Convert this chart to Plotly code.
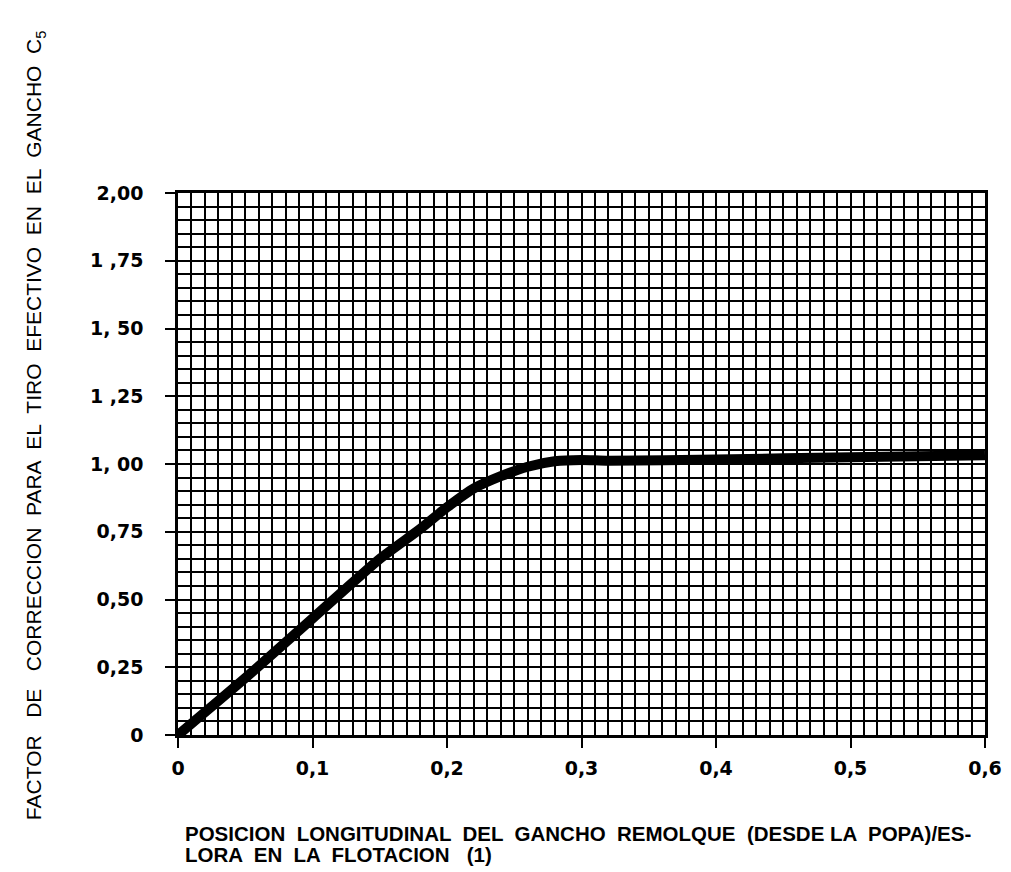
import plotly.graph_objects as go

# Data
x_pos = [0.0, 0.05, 0.10, 0.15, 0.18, 0.20, 0.22, 0.24, 0.26, 0.28, 0.30, 0.32, 0.40, 0.50, 0.60]
c5 = [0.0, 0.21, 0.43, 0.65, 0.76, 0.84, 0.91, 0.955, 0.99, 1.01, 1.015, 1.012, 1.017, 1.025, 1.032]

x_ticks = [0, 0.1, 0.2, 0.3, 0.4, 0.5, 0.6]
x_ticktext = ["0", "0,1", "0,2", "0,3", "0,4", "0,5", "0,6"]
y_ticks = [0, 0.25, 0.5, 0.75, 1.0, 1.25, 1.5, 1.75, 2.0]
y_ticktext = ["0", "0,25", "0,50", "0,75", "1, 00", "1 ,25", "1, 50", "1 ,75", "2,00"]

y_title = ("FACTOR   DE   CORRECCION  PARA  EL  TIRO  EFECTIVO  EN  EL  GANCHO  C<sub>5</sub>")
x_title_1 = "POSICION  LONGITUDINAL  DEL  GANCHO  REMOLQUE  (DESDE LA  POPA)/ES-"
x_title_2 = "LORA  EN  LA  FLOTACION   (1)"

fig = go.Figure()
fig.add_trace(go.Scatter(
    x=x_pos, y=c5, mode="lines",
    line=dict(color="black", width=10, shape="spline", smoothing=0.6),
    cliponaxis=False, showlegend=False,
))

axis_common = dict(
    showline=True, linecolor="black", linewidth=2.5, mirror=True,
    showgrid=True, gridcolor="black", gridwidth=2,
    ticks="outside", ticklen=10, tickwidth=2, tickcolor="black",
    zeroline=False,
    tickfont=dict(family="DejaVu Sans", size=19, color="black", weight="bold"),
)

fig.update_xaxes(
    range=[0, 0.6], tickvals=x_ticks, ticktext=x_ticktext,
    minor=dict(dtick=0.01, showgrid=True, gridcolor="black", gridwidth=1.5, ticks=""),
    ticklabelstandoff=4,
    **axis_common,
)
fig.update_yaxes(
    range=[0, 2.0], tickvals=y_ticks, ticktext=y_ticktext,
    minor=dict(dtick=0.05, showgrid=True, gridcolor="black", gridwidth=1.5, ticks=""),
    ticklabelstandoff=18,
    **axis_common,
)

fig.add_annotation(
    text=y_title, textangle=-90, xref="paper", yref="paper",
    x=-0.177, y=0.572, xanchor="center", yanchor="middle", showarrow=False,
    font=dict(family="Liberation Sans", size=21, color="black"),
)
fig.add_annotation(
    text=x_title_1, xref="paper", yref="paper",
    x=0.006, y=-0.181, xanchor="left", yanchor="middle", align="left", showarrow=False,
    font=dict(family="Liberation Sans", size=20.5, color="black", weight="bold"),
)
fig.add_annotation(
    text=x_title_2, xref="paper", yref="paper",
    x=0.006, y=-0.221, xanchor="left", yanchor="middle", align="left", showarrow=False,
    font=dict(family="Liberation Sans", size=20.5, color="black", weight="bold"),
)

fig.update_layout(
    width=1011, height=872,
    margin=dict(l=170, r=34, t=185, b=145),
    paper_bgcolor="white", plot_bgcolor="white",
)

fig.write_html("out.html")
